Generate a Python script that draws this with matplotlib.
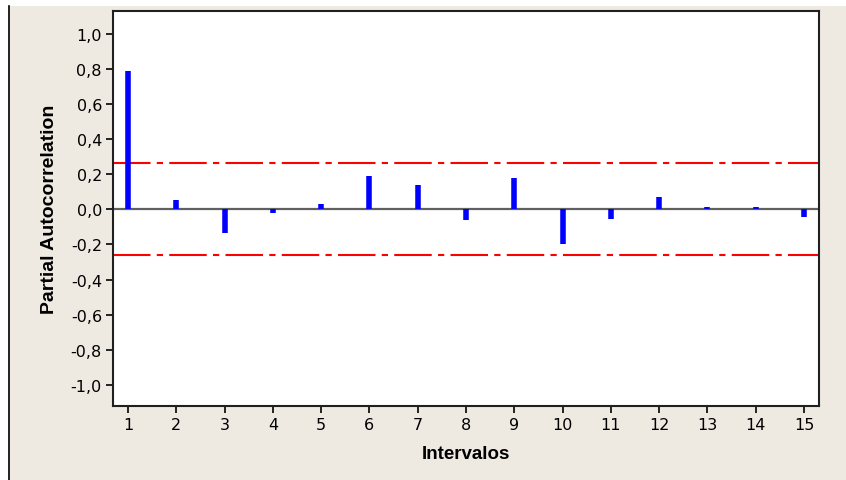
import matplotlib
matplotlib.use('Agg')
import matplotlib.pyplot as plt
from matplotlib.patches import Rectangle
from matplotlib.lines import Line2D
from matplotlib.ticker import FuncFormatter

# DATA
lags = list(range(1, 16))
pacf = [0.79, 0.055, -0.137, -0.02, 0.03, 0.19, 0.14, -0.06, 0.18,
        -0.198, -0.053, 0.072, 0.015, 0.015, -0.046]
sig_limit = 0.262
y_ticks = [-1.0, -0.8, -0.6, -0.4, -0.2, 0.0, 0.2, 0.4, 0.6, 0.8, 1.0]

BEIGE = '#EEEAE1'
W, H = 846, 481

fig = plt.figure(figsize=(W / 100, H / 100), dpi=100, facecolor='white')

# beige panel with a dark left edge (behind the axes)
fig.add_artist(Rectangle((8 / W, 0), 1 - 8 / W, (H - 7) / H,
                         transform=fig.transFigure, facecolor=BEIGE,
                         edgecolor='none', zorder=-10))
fig.add_artist(Line2D([8.5 / W, 8.5 / W], [0, (H - 7) / H],
                      transform=fig.transFigure, color='black', lw=1.2,
                      zorder=-5))

ax = fig.add_axes([113 / W, (H - 407) / H, 706 / W, 395 / H])
ax.set_zorder(5)
ax.set_facecolor('white')

ax.axhline(0, color='#606060', lw=1.6, zorder=1)
ax.vlines(lags, 0, pacf, colors='#0000FF', lw=4, zorder=3)
for s in (sig_limit, -sig_limit):
    ax.axhline(s, color='#FF0000', lw=1.5, dashes=(18, 3, 3, 3), zorder=2)

ax.set_xlim(0.69, 15.31)
ax.set_ylim(-1.12, 1.13)
ax.set_xticks(lags)
ax.set_yticks(y_ticks)
ax.yaxis.set_major_formatter(FuncFormatter(lambda v, p: f'{v:.1f}'.replace('.', ',')))
ax.tick_params(direction='out', length=5, width=1.2, labelsize=11.5, pad=3)

for sp in ax.spines.values():
    sp.set_linewidth(1.5)
    sp.set_color('#202020')

ax.set_xlabel('Intervalos', fontsize=13.5, fontweight='bold',
              family='Liberation Sans', labelpad=9)
ax.set_ylabel('Partial Autocorrelation', fontsize=14, fontweight='bold',
              family='Liberation Sans', labelpad=9)

fig.savefig('out.png', dpi=100, facecolor=fig.get_facecolor())
